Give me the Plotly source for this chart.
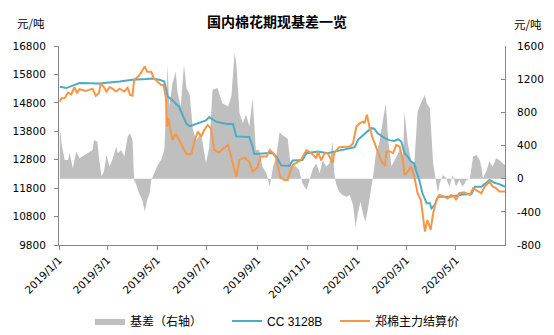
import plotly.graph_objects as go

# CC 3128B spot price (元/吨)
cc_dates = ["2019-01-02","2019-01-10","2019-01-26","2019-02-19","2019-03-16","2019-04-01","2019-04-18","2019-04-25",
            "2019-05-04","2019-05-10","2019-05-14","2019-05-18","2019-05-28","2019-06-06","2019-06-10","2019-06-22",
            "2019-06-30","2019-07-04","2019-07-12","2019-07-25","2019-08-02","2019-08-06","2019-08-22","2019-08-26",
            "2019-08-28","2019-09-12","2019-09-19","2019-09-24","2019-09-30","2019-10-10","2019-10-14","2019-10-26",
            "2019-10-31","2019-11-14","2019-11-26","2019-12-04","2019-12-12","2019-12-29","2020-01-02","2020-01-10",
            "2020-01-18","2020-01-22","2020-01-26","2020-02-04","2020-02-10","2020-02-16","2020-02-20","2020-02-24",
            "2020-02-28","2020-03-03","2020-03-07","2020-03-11","2020-03-13","2020-03-17","2020-03-21","2020-03-26",
            "2020-03-30","2020-04-01","2020-04-05","2020-04-09","2020-04-25","2020-05-07","2020-05-20","2020-05-24",
            "2020-06-01","2020-06-05","2020-06-11","2020-06-17","2020-06-23","2020-06-30"]
cc_values = [15370,15320,15500,15480,15550,15610,15640,15660,
             15610,15550,15020,14940,14660,14070,13980,14100,
             14180,14300,14140,14060,14060,13620,13600,13260,
             13000,13030,13040,12920,12600,12580,12770,12790,
             13030,13085,13030,13085,13140,13240,13500,13700,
             13910,13890,13730,13560,13480,13460,13520,13440,
             13030,12910,12730,12670,12440,12090,11620,11270,
             11270,11090,11210,11500,11500,11570,11600,11850,
             11850,11940,12090,11990,11940,11850]

# 郑棉主力结算价 (元/吨)
zc_dates = ["2019-01-02","2019-01-04","2019-01-08","2019-01-12","2019-01-16","2019-01-20","2019-01-23","2019-01-26",
            "2019-02-03","2019-02-11","2019-02-15","2019-02-19","2019-02-21","2019-02-25","2019-02-28","2019-03-04",
            "2019-03-08","2019-03-12","2019-03-16","2019-03-22","2019-03-26","2019-03-29","2019-04-01","2019-04-03",
            "2019-04-09","2019-04-13","2019-04-16","2019-04-19","2019-04-24","2019-04-27","2019-05-02","2019-05-06",
            "2019-05-09","2019-05-12","2019-05-13","2019-05-15","2019-05-17","2019-05-20","2019-05-24","2019-05-30",
            "2019-06-06","2019-06-12","2019-06-16","2019-06-20","2019-06-24","2019-06-28","2019-07-02","2019-07-06",
            "2019-07-10","2019-07-16","2019-07-20","2019-07-27","2019-07-31","2019-08-06","2019-08-10","2019-08-16",
            "2019-08-22","2019-08-26","2019-09-01","2019-09-05","2019-09-12","2019-09-16","2019-09-20","2019-09-24",
            "2019-09-26","2019-09-29","2019-10-04","2019-10-08","2019-10-11","2019-10-14","2019-10-18","2019-10-24",
            "2019-10-31","2019-11-06","2019-11-12","2019-11-14","2019-11-18","2019-11-22","2019-11-26","2019-12-02",
            "2019-12-04","2019-12-10","2019-12-17","2019-12-23","2019-12-27","2019-12-31","2020-01-04","2020-01-08",
            "2020-01-10","2020-01-13","2020-01-16","2020-01-20","2020-01-24","2020-01-30","2020-02-04","2020-02-06",
            "2020-02-10","2020-02-14","2020-02-18","2020-02-22","2020-02-26","2020-02-28","2020-03-03","2020-03-07",
            "2020-03-11","2020-03-15","2020-03-19","2020-03-23","2020-03-24","2020-03-27","2020-03-29","2020-03-31",
            "2020-04-03","2020-04-07","2020-04-11","2020-04-15","2020-04-21","2020-04-25","2020-04-29","2020-05-01",
            "2020-05-05","2020-05-11","2020-05-18","2020-05-22","2020-05-28","2020-06-01","2020-06-05","2020-06-11",
            "2020-06-15","2020-06-19","2020-06-23","2020-06-30"]
zc_values = [14845,14960,14960,15160,15100,15350,15140,15280,
             15220,15300,15050,15150,15490,15350,15200,15350,
             15290,15200,15300,15200,15330,15080,15050,15610,
             15750,15960,16080,15890,15890,15670,15550,15430,
             15430,14960,13960,14260,13910,13500,13710,13380,
             13000,13000,13470,13790,13610,13850,14020,13910,
             13140,13050,13170,13320,12850,12200,12790,12880,
             12730,12380,12530,12910,12910,13140,13030,12850,
             12560,12180,12090,12090,12380,12620,12680,12790,
             13140,13030,12850,13085,12780,13030,13030,12680,
             13030,13240,13260,13260,13380,13960,14080,14140,
             14080,14380,13960,13560,13260,12790,12580,13090,
             13090,13030,13320,13260,12790,12260,12380,12560,
             12200,11620,11380,10620,10270,10680,10500,10330,
             10920,11380,11560,11500,11440,11560,11500,11380,
             11620,11650,11560,11800,11680,11620,11850,12030,
             11850,11800,11680,11680]

# 基差（右轴） (元/吨)
basis_dates = ["2019-01-02","2019-01-03","2019-01-04","2019-01-08","2019-01-12","2019-01-14","2019-01-18","2019-01-22",
               "2019-01-26","2019-02-01","2019-02-07","2019-02-11","2019-02-13","2019-02-17","2019-02-19","2019-02-22",
               "2019-02-25","2019-02-28","2019-03-04","2019-03-08","2019-03-12","2019-03-14","2019-03-18","2019-03-22",
               "2019-03-26","2019-03-29","2019-04-01","2019-04-03","2019-04-05","2019-04-09","2019-04-13","2019-04-16",
               "2019-04-19","2019-04-22","2019-04-24","2019-04-28","2019-05-02","2019-05-06","2019-05-10","2019-05-14",
               "2019-05-16","2019-05-20","2019-05-24","2019-05-26","2019-05-30","2019-06-03","2019-06-06","2019-06-10",
               "2019-06-14","2019-06-18","2019-06-24","2019-06-30","2019-07-04","2019-07-08","2019-07-14","2019-07-20",
               "2019-07-27","2019-07-31","2019-08-04","2019-08-06","2019-08-10","2019-08-14","2019-08-18","2019-08-22",
               "2019-08-26","2019-08-30","2019-09-03","2019-09-07","2019-09-12","2019-09-16","2019-09-20","2019-09-24",
               "2019-09-28","2019-10-02","2019-10-08","2019-10-12","2019-10-16","2019-10-22","2019-10-26","2019-10-31",
               "2019-11-04","2019-11-08","2019-11-12","2019-11-16","2019-11-20","2019-11-24","2019-11-28","2019-12-02",
               "2019-12-04","2019-12-06","2019-12-10","2019-12-14","2019-12-19","2019-12-23","2019-12-27","2019-12-30",
               "2020-01-02","2020-01-05","2020-01-08","2020-01-11","2020-01-14","2020-01-18","2020-01-21","2020-01-24",
               "2020-01-28","2020-02-01","2020-02-05","2020-02-08","2020-02-12","2020-02-16","2020-02-22","2020-02-26",
               "2020-02-28","2020-03-03","2020-03-07","2020-03-11","2020-03-15","2020-03-19","2020-03-24","2020-03-26",
               "2020-03-30","2020-04-03","2020-04-05","2020-04-07","2020-04-09","2020-04-11","2020-04-15","2020-04-19",
               "2020-04-23","2020-04-27","2020-05-01","2020-05-05","2020-05-09","2020-05-14","2020-05-18","2020-05-22",
               "2020-05-26","2020-05-30","2020-06-01","2020-06-03","2020-06-07","2020-06-11","2020-06-15","2020-06-19",
               "2020-06-23","2020-06-27","2020-06-30"]
basis_values = [560,548,428,226,226,307,126,326,
                247,286,326,347,467,446,247,33,
                80,286,145,247,387,307,347,266,
                507,548,467,-16,-56,-176,-257,-399,
                -257,-176,-16,85,165,226,347,1373,
                870,1152,1292,1050,870,1373,1092,1011,
                588,467,548,186,386,1071,1092,911,
                870,991,1515,1394,790,669,770,628,
                971,347,347,145,65,-97,145,260,
                560,520,480,126,165,105,-56,-137,
                -16,126,186,65,226,145,186,447,
                65,-56,-157,-197,-217,-197,-318,-580,
                -410,-277,-418,-520,-379,-137,65,307,
                428,669,911,467,150,226,347,226,
                809,428,226,186,809,911,1011,911,
                850,186,65,-16,-176,-56,45,5,
                -97,45,-97,-16,-97,-16,5,266,
                286,226,145,5,85,206,145,247,
                226,186,165]

x_tick_vals = ["2019-01-01","2019-03-01","2019-05-01","2019-07-01","2019-09-01",
               "2019-11-01","2020-01-01","2020-03-01","2020-05-01"]
x_tick_text = ["2019/1/1","2019/3/1","2019/5/1","2019/7/1","2019/9/1",
               "2019/11/1","2020/1/1","2020/3/1","2020/5/1"]
left_ticks = [9800,10800,11800,12800,13800,14800,15800,16800]
right_ticks = [-800,-400,0,400,800,1200,1600]

FONT = "DejaVu Sans, Noto Sans CJK SC, sans-serif"
CJK = "Noto Sans CJK SC, DejaVu Sans, sans-serif"
LEG = "Liberation Sans, Noto Sans CJK SC, sans-serif"
AXIS_COLOR = "#868686"

W, H = 554, 335
ML, MR, MT, MB = 59, 49, 46, 90
PW, PH = W - ML - MR, H - MT - MB


def px(xp):
    return (xp - ML) / PW


def py(yp):
    return (H - MB - yp) / PH


fig = go.Figure()
# basis on the base (right-side) axis so it is drawn behind the price lines
fig.add_trace(go.Scatter(x=basis_dates, y=basis_values, name="基差（右轴）", yaxis="y",
                         mode="lines", line=dict(width=0, color="#BFBFBF"),
                         fill="tozeroy", fillcolor="#BFBFBF", legend="legend"))
fig.add_trace(go.Scatter(x=cc_dates, y=cc_values, name="CC 3128B", mode="lines", yaxis="y2",
                         line=dict(color="#4BACC6", width=2), legend="legend2"))
fig.add_trace(go.Scatter(x=zc_dates, y=zc_values, name="郑棉主力结算价", mode="lines", yaxis="y2",
                         line=dict(color="#F79646", width=2), legend="legend3"))

leg_common = dict(orientation="h", xref="container", yref="container", xanchor="left",
                  yanchor="middle", y=1 - 321 / H, bgcolor="rgba(0,0,0,0)",
                  font=dict(family=LEG, size=12), itemwidth=30)

fig.update_layout(
    width=W, height=H,
    margin=dict(l=ML, r=MR, t=MT, b=MB, autoexpand=False),
    paper_bgcolor="white", plot_bgcolor="white",
    font=dict(family=FONT, size=11, color="#000000"),
    showlegend=True,
    legend=dict(x=(90) / W, **leg_common),
    legend2=dict(x=(227) / W, **leg_common),
    legend3=dict(x=(335) / W, **leg_common),
    xaxis=dict(type="date", range=["2019-01-01", "2020-06-30"], automargin=False,
               tickvals=x_tick_vals, ticktext=x_tick_text, tickangle=-45,
               showgrid=False, zeroline=False, showline=True, linecolor=AXIS_COLOR, linewidth=1,
               ticks="outside", ticklen=4, tickcolor=AXIS_COLOR,
               tickfont=dict(size=10.5)),
    yaxis=dict(range=[-800, 1600], tickvals=right_ticks, ticktext=[str(v) for v in right_ticks],
               side="right", automargin=False,
               showgrid=False, zeroline=False, showline=True, linecolor=AXIS_COLOR, linewidth=1,
               ticks="inside", ticklen=4, tickcolor=AXIS_COLOR, tickfont=dict(size=10.5),
               ticklabelstandoff=9),
    yaxis2=dict(range=[9800, 16800], tickvals=left_ticks, ticktext=[str(v) for v in left_ticks],
                overlaying="y", side="left", automargin=False,
                showgrid=False, zeroline=False, showline=True, linecolor=AXIS_COLOR, linewidth=1,
                ticks="outside", ticklen=4, tickcolor=AXIS_COLOR, tickfont=dict(size=10.5),
                ticklabelstandoff=6),
    annotations=[
        dict(text="<b>国内棉花期现基差一览</b>", x=px(277), y=py(21), xref="paper", yref="paper",
             xanchor="center", yanchor="middle", showarrow=False, font=dict(family=CJK, size=14)),
        dict(text="元/吨", x=px(31), y=py(23), xref="paper", yref="paper", showarrow=False,
             xanchor="center", yanchor="middle", font=dict(family=CJK, size=11.5)),
        dict(text="元/吨", x=px(528), y=py(24), xref="paper", yref="paper", showarrow=False,
             xanchor="center", yanchor="middle", font=dict(family=CJK, size=11.5)),
    ],
)

fig.write_html("out.html")
